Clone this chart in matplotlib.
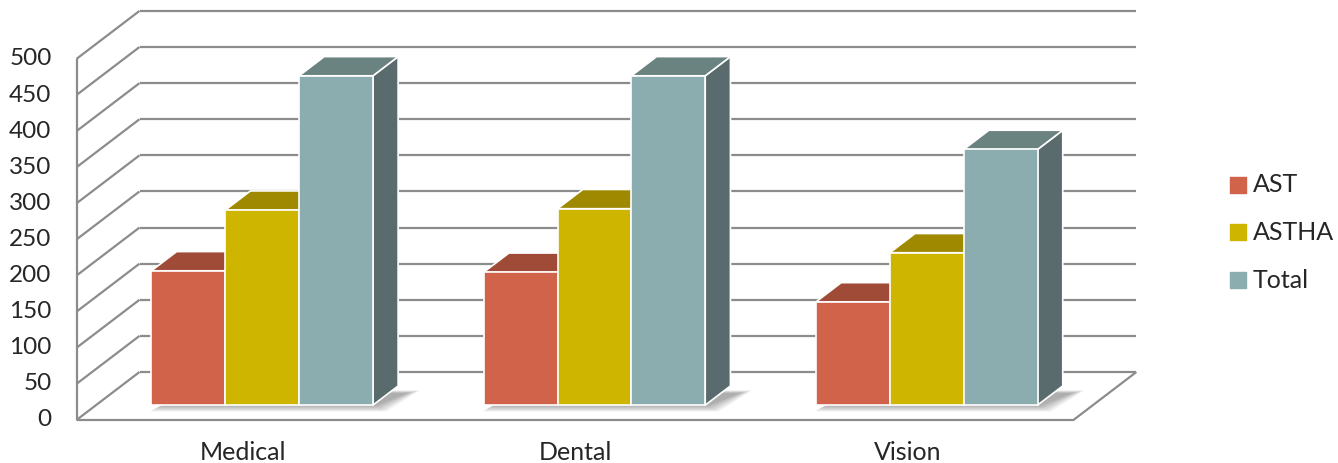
# 3D-style clustered bars (Medical / Dental / Vision)

import matplotlib.pyplot as plt
from matplotlib.patches import Polygon
import numpy as np

categories = ["Medical", "Dental", "Vision"]
series = ["AST", "ASTHA", "Total"]
ast = [186, 184, 143]
astha = [270, 272, 211]
total = [456, 456, 354]
y_ticks = list(range(0, 501, 50))

front_colors = ["#D0634A", "#CEB500", "#8CADAF"]
top_colors = ["#A04B37", "#9E8900", "#6A8280"]
side_colors = ["#8A3F2E", "#857300", "#596B6C"]

# pixel geometry of the oblique projection
PX_X = 332.3          # px per category unit
PX_V = 0.7222         # px per value unit
DX = 63 / PX_X        # full depth shift, x units
DY = 48 / PX_V        # full depth shift, value units
D0 = 0.31             # depth of bar front face
BD = 0.40             # bar depth
W = 0.2222            # bar width

plt.rcParams['font.family'] = ['Lato', 'DejaVu Sans']

fig = plt.figure(figsize=(13.38, 4.63), dpi=100)
ax = fig.add_axes([0, 0, 1, 1])
ax.set_xlim(-0.5 - 76.5 / PX_X, -0.5 + (1338 - 76.5) / PX_X)
ax.set_ylim((420 - 463) / PX_V, 420 / PX_V)
ax.axis('off')

grid = dict(color="#8C8C8C", lw=1.6, solid_capstyle='butt', zorder=1)
x0, x1 = -0.5, 2.5
for v in y_ticks:
    # back wall line + left wall diagonal
    ax.plot([x0 + DX, x1 + DX], [v + DY, v + DY], **grid)
    ax.plot([x0, x0 + DX], [v, v + DY], **grid)
    ax.text(x0 - 0.075, v, str(v), ha='right', va='center',
            fontsize=17.5, color="#262626")
ax.plot([x0, x0], [0, 500], **grid)
ax.plot([x0, x1, x1 + DX], [0, 0, DY], **grid)

# soft shadow on the floor
values = np.array([ast, astha, total]).T
for i in range(len(categories)):
    xl = i - 1.5 * W + D0 * DX
    xr = i + 1.5 * W + D0 * DX
    yb = D0 * DY
    for k in range(10):
        e = k * 0.004
        ev = k * 0.9
        pts = [(xl + 0.03 - e, yb - 1 - ev),
               (xr + 0.005 + e, yb - 1 - ev),
               (xr + BD * DX + 0.03 + e, yb + BD * DY - 10 + ev * 0.5),
               (xl + BD * DX + 0.03, yb + BD * DY - 10 + ev * 0.5)]
        ax.add_patch(Polygon(pts, closed=True, facecolor="#000000",
                             alpha=0.035, lw=0, zorder=2))

# bars: side, top, then front face drawn through ax.bar
for i in range(len(categories)):
    for j in range(len(series)):
        v = values[i, j]
        xl = i + (j - 1.5) * W + D0 * DX
        xr = xl + W
        yb = D0 * DY
        yt = yb + v
        z = 3 + j
        side = [(xr, yb), (xr + BD * DX, yb + BD * DY),
                (xr + BD * DX, yt + BD * DY), (xr, yt)]
        top = [(xl, yt), (xr, yt), (xr + BD * DX, yt + BD * DY),
               (xl + BD * DX, yt + BD * DY)]
        ax.add_patch(Polygon(side, closed=True, facecolor=side_colors[j],
                             edgecolor="white", lw=1.2, zorder=z))
        ax.add_patch(Polygon(top, closed=True, facecolor=top_colors[j],
                             edgecolor="white", lw=1.2, zorder=z))
        ax.bar(xl, v, width=W, bottom=yb, align='edge',
               color=front_colors[j], edgecolor="white", lw=1.2, zorder=z)

for i, name in enumerate(categories):
    ax.text(i, (420 - 452) / PX_V, name, ha='center', va='center',
            fontsize=18, color="#262626")

# legend
leg_y = [184.5, 232, 280]
for j, name in enumerate(series):
    yv = (420 - leg_y[j]) / PX_V
    ax.scatter([(1238 - 76.5) / PX_X - 0.5], [yv], marker='s', s=120,
               color=front_colors[j], zorder=5)
    ax.text((1253 - 76.5) / PX_X - 0.5, yv, name, ha='left', va='center',
            fontsize=18, color="#262626")

fig.savefig("out.png", dpi=100)
